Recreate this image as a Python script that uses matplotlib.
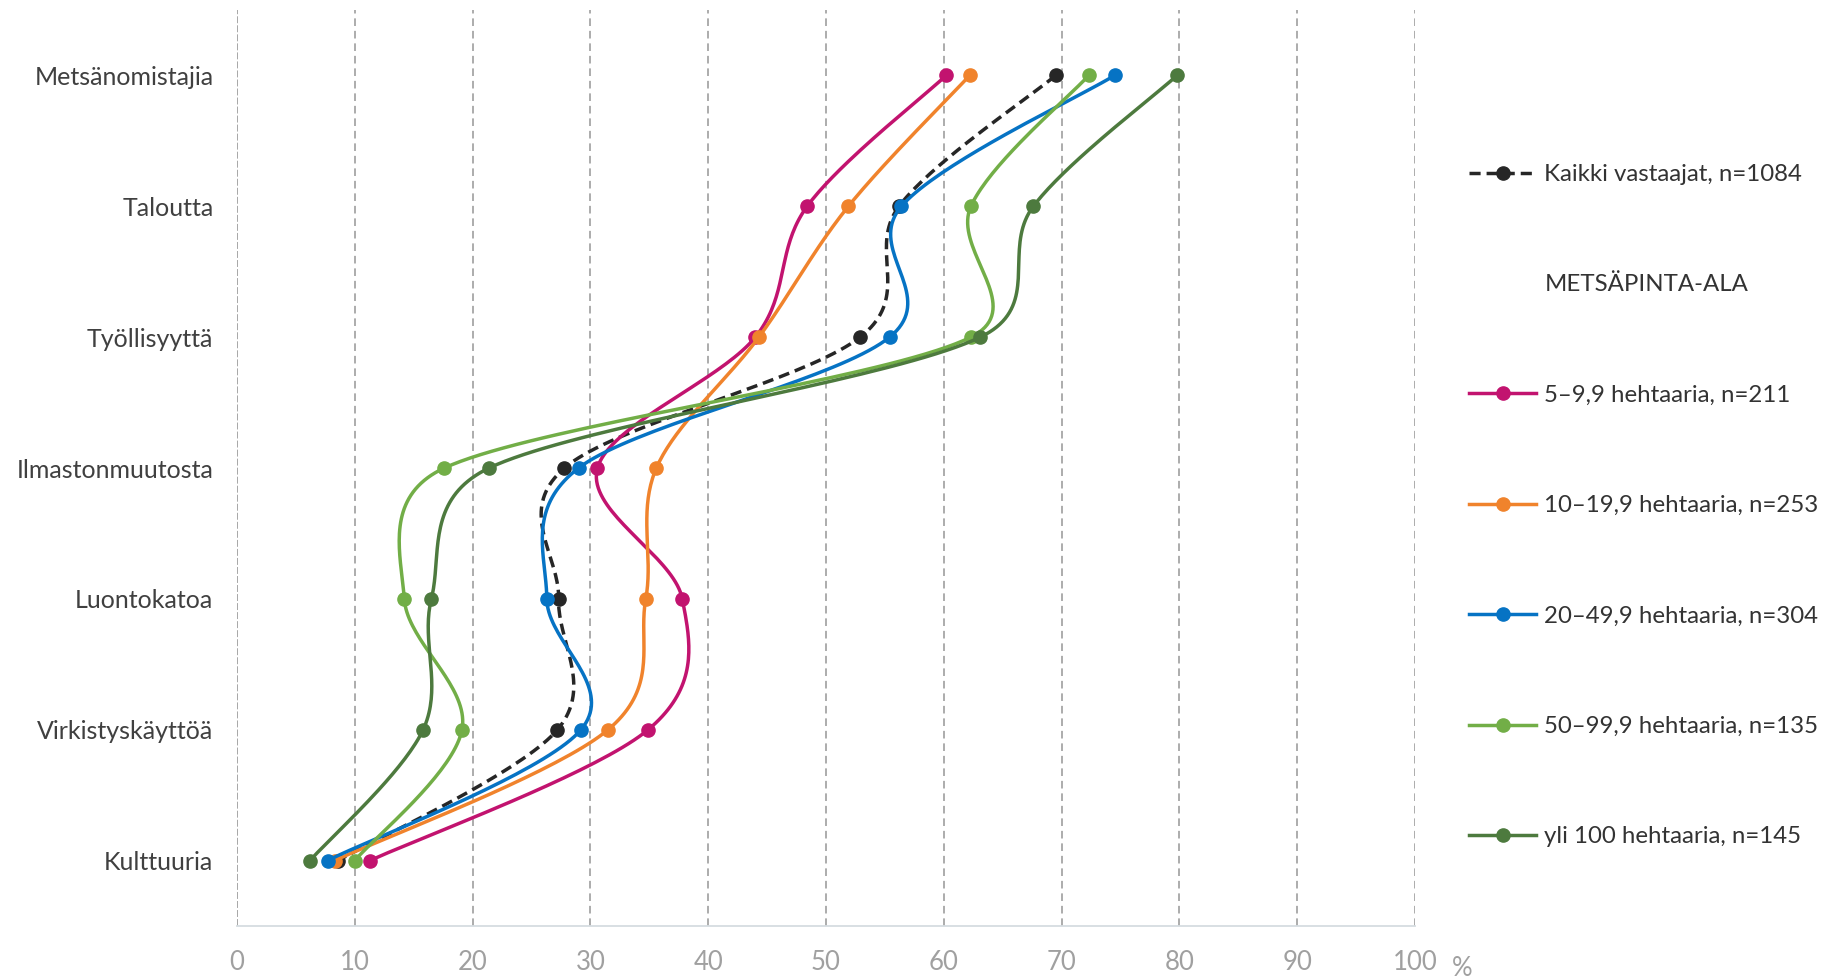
import numpy as np
import matplotlib
matplotlib.use("Agg")
import matplotlib.pyplot as plt
from matplotlib.lines import Line2D

plt.rcParams['font.family'] = ['Lato', 'DejaVu Sans']
plt.rcParams['lines.scale_dashes'] = False

categories = ["Metsänomistajia", "Taloutta", "Työllisyyttä", "Ilmastonmuutosta",
              "Luontokatoa", "Virkistyskäyttöä", "Kulttuuria"]
kaikki = [69.5, 56.2, 52.9, 27.8, 27.3, 27.2, 8.6]
ha_5 = [60.2, 48.4, 44.0, 30.6, 37.8, 34.9, 11.3]
ha_10 = [62.2, 51.9, 44.3, 35.6, 34.7, 31.5, 8.3]
ha_20 = [74.5, 56.4, 55.4, 29.0, 26.3, 29.2, 7.7]
ha_50 = [72.3, 62.3, 62.3, 17.6, 14.2, 19.1, 10.0]
ha_100 = [79.8, 67.6, 63.1, 21.4, 16.5, 15.8, 6.2]
labels = ["Kaikki vastaajat, n=1084", "5–9,9 hehtaaria, n=211", "10–19,9 hehtaaria, n=253",
          "20–49,9 hehtaaria, n=304", "50–99,9 hehtaaria, n=135", "yli 100 hehtaaria, n=145"]
colors = ["#262626", "#C2136F", "#F0832C", "#0673C4", "#72AE47", "#4D7A3E"]
xticks = [0, 10, 20, 30, 40, 50, 60, 70, 80, 90, 100]

fig = plt.figure(figsize=(18.32, 9.8), dpi=100)
ax = fig.add_axes([237 / 1832, 1 - 926 / 980, (1415 - 237) / 1832, (926 - 10) / 980])
ax.set_xlim(0, 100)
ax.set_ylim(-0.5, 6.5)

# excel-like smoothing: bezier, tangent/6, clamped to half segment (in pixels)
def smooth(xs, ys, n=40):
    P = ax.transData.transform(np.column_stack([xs, ys]))
    out = []
    for i in range(len(P) - 1):
        p0 = P[i]
        p3 = P[i + 1]
        seg_len = np.hypot(*(p3 - p0))
        t0 = p3 - (P[i - 1] if i > 0 else P[i])
        t1 = (P[i + 2] if i + 2 < len(P) else P[i + 1]) - p0
        l0 = np.hypot(*t0)
        l1 = np.hypot(*t1)
        c1 = p0 + t0 / l0 * min(l0 / 6, seg_len / 2)
        c2 = p3 - t1 / l1 * min(l1 / 6, seg_len / 2)
        t = np.linspace(0, 1, n)[:, None]
        seg = (1 - t)**3 * p0 + 3 * (1 - t)**2 * t * c1 + 3 * (1 - t) * t**2 * c2 + t**3 * p3
        out.append(seg if i == 0 else seg[1:])
    return ax.transData.inverted().transform(np.vstack(out))

ypos = np.arange(len(categories))[::-1]
series = [kaikki, ha_5, ha_10, ha_20, ha_50, ha_100]
handles = []
for k, vals in enumerate(series):
    curve = smooth(vals, ypos)
    ls = (0, (8, 4.3)) if k == 0 else '-'
    ax.plot(curve[:, 0], curve[:, 1], color=colors[k], lw=2.5, linestyle=ls, zorder=3 + k)
    ax.plot(vals, ypos, 'o', color=colors[k], ms=9.5, zorder=3 + k)
    handles.append(Line2D([], [], color=colors[k], lw=2.5, linestyle=ls, marker='o', ms=9.5))

for x in xticks:
    if x == 0:
        ax.axvline(x, color="#A0A0A0", lw=1.3, dashes=(5, 1.5), zorder=1)
    else:
        ax.axvline(x, color="#A6A6A6", lw=1.3, dashes=(5.5, 3.5), zorder=1)

ax.set_xticks(xticks)
ax.set_yticks(ypos)
ax.set_yticklabels(categories)
ax.tick_params(axis='y', length=0, pad=17, labelsize=18, labelcolor="#404040")
ax.tick_params(axis='x', length=0, pad=17, labelsize=18.5, labelcolor="#A0A0A0")
for s in ['top', 'right', 'left']:
    ax.spines[s].set_visible(False)
ax.spines['bottom'].set_color("#D5DCE0")
ax.spines['bottom'].set_linewidth(1.3)

fig.text(1462 / 1832, 1 - 968 / 980, "%", ha='center', va='center', fontsize=18.5, color="#A0A0A0")

blank = Line2D([], [], linestyle='none')
leg_handles = [handles[0], blank] + handles[1:]
leg_labels = [labels[0], "METSÄPINTA-ALA"] + labels[1:]
fig.legend(leg_handles, leg_labels, loc='upper left', bbox_to_anchor=(1469 / 1832, 1 - 164 / 980),
           frameon=False, fontsize=17.3, handlelength=2.8, handletextpad=0.34,
           labelspacing=3.72, borderpad=0, borderaxespad=0, labelcolor="#333333")

fig.savefig("out.png", dpi=100)
